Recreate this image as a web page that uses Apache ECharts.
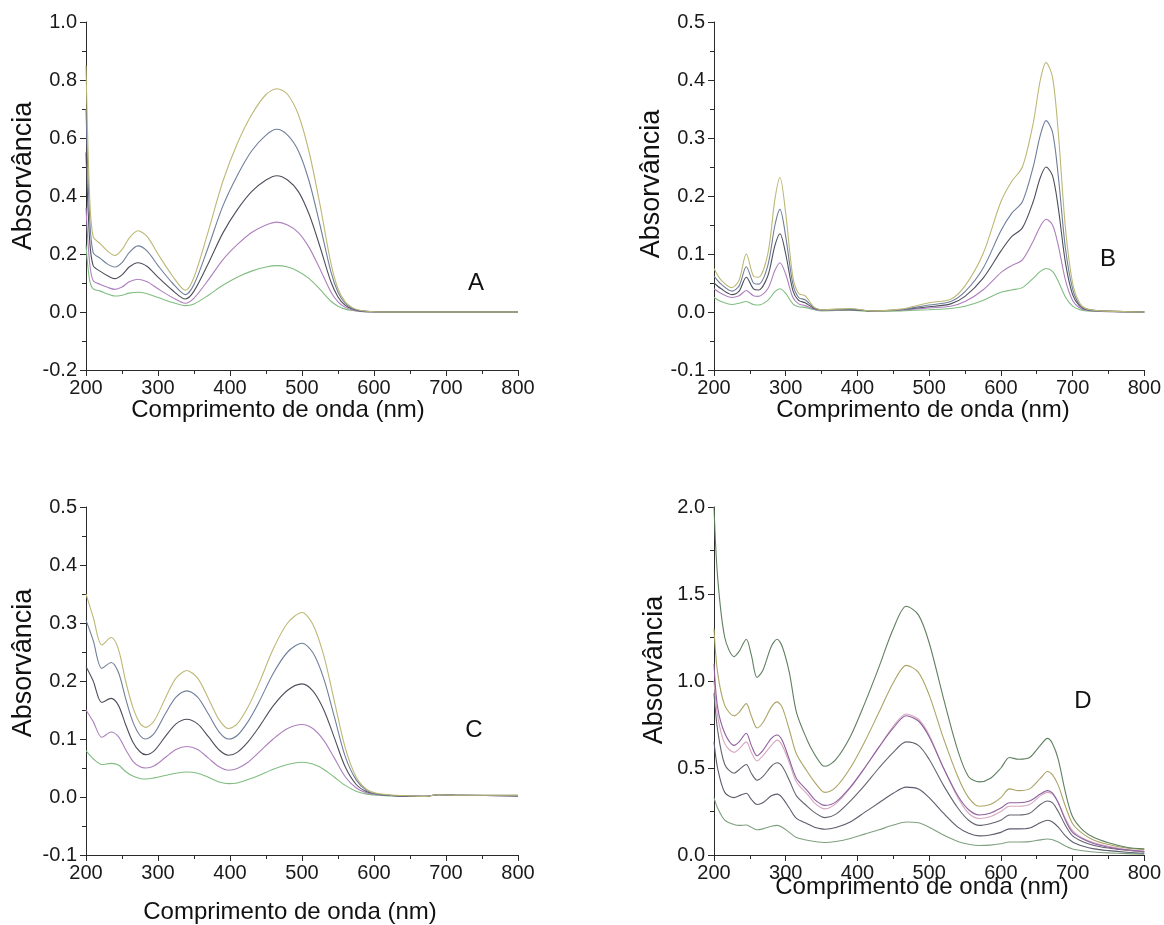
<!DOCTYPE html>
<html>
<head>
<meta charset="utf-8">
<script src="https://cdn.jsdelivr.net/npm/echarts@6/dist/echarts.min.js"></script>
<style>
html,body{margin:0;padding:0;background:#fff;}
#chart{width:1164px;height:925px;}
</style>
</head>
<body>
<div id="chart"></div>
<script>
// ---- Panel A ----
var wlA = [200,205,210,220,230,240,250,260,272,285,300,320,338,350,370,390,410,430,450,465,480,495,510,525,540,550,560,570,580,600,650,700,800];
var a1 = [0.85,0.40,0.26,0.235,0.21,0.195,0.215,0.255,0.28,0.26,0.2,0.125,0.075,0.12,0.28,0.45,0.58,0.68,0.75,0.77,0.75,0.68,0.55,0.37,0.17,0.08,0.035,0.015,0.006,0.001,0,0,0];
var a2 = [0.70,0.33,0.205,0.185,0.165,0.155,0.17,0.205,0.228,0.21,0.16,0.10,0.06,0.095,0.225,0.365,0.47,0.555,0.61,0.63,0.61,0.555,0.45,0.30,0.14,0.068,0.03,0.013,0.005,0.001,0,0,0];
var a3 = [0.55,0.25,0.16,0.14,0.125,0.115,0.128,0.155,0.17,0.157,0.12,0.075,0.045,0.072,0.168,0.272,0.352,0.415,0.455,0.47,0.455,0.415,0.336,0.225,0.105,0.052,0.023,0.01,0.004,0.001,0,0,0];
var a4 = [0.36,0.17,0.108,0.095,0.085,0.078,0.086,0.104,0.113,0.104,0.08,0.05,0.03,0.048,0.111,0.18,0.232,0.274,0.30,0.31,0.30,0.274,0.222,0.148,0.07,0.035,0.016,0.007,0.003,0,0,0,0];
var a5 = [0.23,0.11,0.08,0.072,0.062,0.055,0.058,0.065,0.068,0.063,0.05,0.033,0.022,0.028,0.058,0.092,0.12,0.141,0.155,0.16,0.155,0.14,0.115,0.078,0.038,0.02,0.01,0.005,0.002,0,0,0,0];

// ---- Panel B ----
var wlB = [200,210,225,235,245,255,262,275,285,292,300,310,318,327,340,350,390,420,460,500,530,550,575,600,615,630,645,655,663,672,680,690,700,710,720,740,800];
var b1 = [0.075,0.055,0.042,0.055,0.10,0.062,0.06,0.10,0.195,0.232,0.17,0.06,0.032,0.028,0.008,0.004,0.006,0.002,0.005,0.016,0.022,0.045,0.10,0.19,0.225,0.25,0.325,0.40,0.43,0.405,0.31,0.145,0.05,0.015,0.005,0.002,0];
var b2 = [0.062,0.048,0.036,0.045,0.078,0.05,0.048,0.08,0.15,0.177,0.13,0.048,0.025,0.021,0.007,0.004,0.005,0.002,0.004,0.012,0.018,0.035,0.075,0.14,0.17,0.19,0.25,0.305,0.33,0.31,0.235,0.11,0.04,0.012,0.005,0.002,0];
var b3 = [0.05,0.04,0.03,0.036,0.06,0.04,0.038,0.062,0.115,0.135,0.10,0.037,0.02,0.016,0.006,0.004,0.004,0.002,0.004,0.009,0.014,0.027,0.058,0.105,0.13,0.145,0.19,0.232,0.25,0.235,0.18,0.085,0.03,0.01,0.004,0.002,0];
var b4 = [0.04,0.032,0.025,0.028,0.037,0.028,0.027,0.04,0.072,0.085,0.065,0.025,0.014,0.011,0.005,0.003,0.004,0.002,0.003,0.007,0.01,0.018,0.038,0.068,0.08,0.09,0.122,0.148,0.16,0.15,0.115,0.055,0.02,0.007,0.003,0.001,0];
var b5 = [0.025,0.018,0.013,0.015,0.018,0.013,0.012,0.02,0.035,0.04,0.032,0.014,0.009,0.008,0.004,0.002,0.003,0.001,0.002,0.004,0.006,0.01,0.02,0.034,0.038,0.042,0.058,0.07,0.075,0.07,0.053,0.026,0.01,0.004,0.002,0.001,0];

// ---- Panel C ----
var wlC = [200,210,222,235,245,255,265,275,283,295,310,325,340,355,370,385,398,410,425,440,460,480,500,515,530,545,560,575,590,605,620,650,670,690,720,800];
var c1 = [0.35,0.31,0.262,0.275,0.255,0.20,0.155,0.127,0.12,0.132,0.17,0.205,0.218,0.205,0.17,0.133,0.118,0.126,0.155,0.195,0.255,0.30,0.318,0.298,0.245,0.165,0.085,0.035,0.013,0.006,0.004,0.002,0.001,0.004,0.003,0.003];
var c2 = [0.305,0.27,0.222,0.232,0.215,0.17,0.13,0.106,0.10,0.11,0.143,0.172,0.183,0.172,0.143,0.112,0.10,0.106,0.13,0.163,0.213,0.25,0.265,0.249,0.205,0.138,0.07,0.03,0.011,0.005,0.003,0.002,0.001,0.004,0.003,0.003];
var c3 = [0.225,0.20,0.163,0.17,0.158,0.125,0.095,0.078,0.073,0.08,0.104,0.126,0.134,0.126,0.104,0.081,0.072,0.077,0.095,0.12,0.157,0.184,0.195,0.183,0.151,0.102,0.052,0.022,0.009,0.005,0.003,0.001,0.001,0.004,0.003,0.002];
var c4 = [0.15,0.13,0.103,0.112,0.104,0.082,0.062,0.052,0.05,0.054,0.068,0.082,0.087,0.082,0.067,0.052,0.046,0.049,0.06,0.077,0.10,0.118,0.125,0.118,0.098,0.067,0.035,0.016,0.007,0.004,0.003,0.001,0.001,0.004,0.003,0.002];
var c5 = [0.08,0.066,0.056,0.058,0.055,0.044,0.036,0.032,0.031,0.033,0.037,0.041,0.043,0.041,0.034,0.026,0.023,0.024,0.03,0.037,0.048,0.056,0.06,0.057,0.048,0.034,0.02,0.01,0.005,0.003,0.002,0.001,0.001,0.004,0.003,0.002];

// ---- Panel D ----
var wlD = [200,205,215,228,235,245,252,260,268,280,288,295,305,315,330,340,350,355,370,390,410,430,450,468,485,500,520,540,555,570,585,600,612,625,640,655,665,672,680,690,700,715,730,750,775,800];
var d1 = [2.0,1.6,1.25,1.14,1.17,1.24,1.15,1.02,1.06,1.2,1.24,1.2,1.05,0.82,0.66,0.58,0.52,0.51,0.55,0.68,0.87,1.08,1.3,1.43,1.38,1.22,0.9,0.6,0.45,0.42,0.44,0.5,0.56,0.55,0.56,0.63,0.67,0.64,0.55,0.36,0.22,0.14,0.10,0.07,0.045,0.035];
var d2 = [1.3,1.05,0.86,0.8,0.82,0.87,0.8,0.73,0.76,0.85,0.88,0.85,0.72,0.58,0.48,0.42,0.37,0.36,0.39,0.5,0.65,0.82,0.99,1.09,1.05,0.92,0.67,0.45,0.33,0.28,0.29,0.33,0.38,0.37,0.38,0.44,0.48,0.46,0.4,0.28,0.18,0.12,0.085,0.06,0.04,0.03];
var d3 = [1.1,0.85,0.7,0.63,0.65,0.7,0.63,0.57,0.6,0.67,0.69,0.66,0.55,0.44,0.37,0.32,0.29,0.285,0.305,0.39,0.5,0.62,0.73,0.8,0.77,0.68,0.5,0.34,0.26,0.23,0.24,0.27,0.3,0.3,0.31,0.35,0.37,0.355,0.3,0.2,0.13,0.09,0.065,0.045,0.03,0.02];
var d4 = [1.0,0.8,0.64,0.59,0.61,0.65,0.59,0.54,0.57,0.63,0.66,0.63,0.53,0.42,0.35,0.3,0.27,0.265,0.295,0.385,0.5,0.62,0.74,0.81,0.78,0.69,0.5,0.33,0.24,0.21,0.22,0.25,0.28,0.28,0.29,0.34,0.36,0.35,0.3,0.21,0.14,0.095,0.07,0.05,0.032,0.022];
var d5 = [0.93,0.72,0.52,0.47,0.49,0.52,0.47,0.43,0.45,0.51,0.53,0.51,0.43,0.34,0.28,0.245,0.22,0.215,0.235,0.31,0.4,0.5,0.59,0.65,0.63,0.55,0.4,0.27,0.2,0.17,0.18,0.2,0.23,0.23,0.24,0.29,0.31,0.3,0.25,0.17,0.11,0.075,0.055,0.04,0.027,0.018];
var d6 = [0.65,0.5,0.36,0.33,0.34,0.355,0.32,0.29,0.3,0.34,0.35,0.33,0.27,0.21,0.18,0.16,0.15,0.148,0.158,0.19,0.245,0.3,0.355,0.39,0.38,0.33,0.24,0.16,0.125,0.11,0.115,0.13,0.15,0.15,0.155,0.185,0.2,0.19,0.16,0.11,0.075,0.05,0.035,0.025,0.016,0.01];
var d7 = [0.33,0.27,0.2,0.175,0.17,0.172,0.16,0.145,0.15,0.165,0.17,0.16,0.13,0.1,0.085,0.078,0.073,0.072,0.078,0.095,0.12,0.145,0.172,0.19,0.185,0.16,0.115,0.078,0.062,0.055,0.057,0.065,0.075,0.075,0.077,0.087,0.092,0.088,0.075,0.052,0.035,0.024,0.017,0.012,0.008,0.005];

// ---- Text ----
var xTitle = 'Comprimento de onda (nm)';
var yTitle = 'Absorvância';
var panelLetters = ['A','B','C','D'];

// colours
var colsABC = ['#bdb876','#6f7f9b','#4e4e5c','#ad80bd','#80bd80'];
var colsD = ['#5f7f5f','#aca466','#8e609e','#d6a8c0','#64646f','#5c5c6c','#80a080'];

var FONT = '"Liberation Sans", Arial, Helvetica, sans-serif';

var grids = [
  {left:86, top:22, width:432, height:348},
  {left:714, top:22, width:431, height:348},
  {left:86, top:507, width:432, height:348},
  {left:714, top:507, width:431, height:348}
];
var yRanges = [
  {min:-0.2, max:1.0, interval:0.2},
  {min:-0.1, max:0.5, interval:0.1},
  {min:-0.1, max:0.5, interval:0.1},
  {min:0, max:2.0, interval:0.5}
];

function axisCommon(){
  return {
    axisLine:{show:true, onZero:false, lineStyle:{color:'#2a2a2a', width:1}},
    axisTick:{show:true, inside:false, length:6, lineStyle:{color:'#2a2a2a', width:1}},
    minorTick:{show:true, splitNumber:2, length:4, lineStyle:{color:'#2a2a2a', width:1}},
    splitLine:{show:false},
    axisLabel:{color:'#1a1a1a', fontSize:20, fontFamily:FONT, margin:9}
  };
}

var xAxes = [], yAxes = [];
for (var i=0;i<4;i++){
  var xa = axisCommon();
  xa.type='value'; xa.gridIndex=i; xa.min=200; xa.max=800; xa.interval=100;
  xa.axisLabel.margin = 8;
  xAxes.push(xa);
  var ya = axisCommon();
  ya.type='value'; ya.gridIndex=i; ya.min=yRanges[i].min; ya.max=yRanges[i].max; ya.interval=yRanges[i].interval;
  ya.axisLabel.formatter = function(v){ var s=(Math.abs(v)<1e-9?0:v).toFixed(1); return s; };
  yAxes.push(ya);
}

function mk(wl, arr, gi, color){
  return {
    type:'line', xAxisIndex:gi, yAxisIndex:gi, showSymbol:false, symbol:'none',
    smooth:0.3, silent:true, animation:false,
    lineStyle:{color:color, width:1.1},
    data: wl.map(function(x,k){ return [x, arr[k]]; })
  };
}

var series = [];
[a5,a4,a3,a2,a1].forEach(function(s,k){ series.push(mk(wlA, s, 0, colsABC[4-k])); });
[b5,b4,b3,b2,b1].forEach(function(s,k){ series.push(mk(wlB, s, 1, colsABC[4-k])); });
[c5,c4,c3,c2,c1].forEach(function(s,k){ series.push(mk(wlC, s, 2, colsABC[4-k])); });
[d7,d6,d5,d4,d3,d2,d1].forEach(function(s,k){ series.push(mk(wlD, s, 3, colsD[6-k])); });

var xTitlePos = [[278,410],[923,410],[290,912],[922,887]];
var yTitlePos = [[24,176],[652,184],[24,663],[655,670]];
var letterPos = [[476,283],[1108,259],[474,730],[1083,701]];

var graphics = [];
for (var j=0;j<4;j++){
  graphics.push({type:'text', x:xTitlePos[j][0], y:xTitlePos[j][1], silent:true,
    style:{text:xTitle, fontSize:24, fontFamily:FONT, fill:'#111', textAlign:'center', textVerticalAlign:'middle'}});
  graphics.push({type:'text', x:yTitlePos[j][0], y:yTitlePos[j][1], rotation:Math.PI/2, silent:true,
    style:{text:yTitle, fontSize:27, fontFamily:FONT, fill:'#111', textAlign:'center', textVerticalAlign:'middle'}});
  graphics.push({type:'text', x:letterPos[j][0], y:letterPos[j][1], silent:true,
    style:{text:panelLetters[j], fontSize:24, fontFamily:FONT, fill:'#111', textAlign:'center', textVerticalAlign:'middle'}});
}

var chart = echarts.init(document.getElementById('chart'), null, {renderer:'canvas'});
chart.setOption({
  backgroundColor:'#ffffff',
  animation:false,
  grid: grids,
  xAxis: xAxes,
  yAxis: yAxes,
  series: series,
  graphic: graphics
});
</script>
</body>
</html>
